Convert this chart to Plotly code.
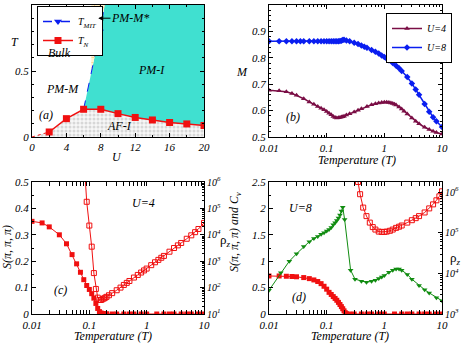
import plotly.graph_objects as go

FONT = "Liberation Serif"
W, H = 463, 343

# ---- (a) phase diagram
tn_u = [2, 4, 6, 8, 10, 12, 14, 16, 18, 20]
tn_t = [0.038, 0.139, 0.21, 0.21, 0.177, 0.148, 0.129, 0.11, 0.099, 0.087]
tn_low_u = [0, 2]
tn_low_t = [0, 0.038]
mit_u = [6.0, 7.9, 8.45]
mit_t = [0.21, 0.80, 1.0]
mit_mark_u = [7.9]
mit_mark_t = [0.80]
pmm_u = [6.9, 8.45, 7.9, 6.9]
pmm_t = [1.0, 1.0, 0.80, 0.49]

# ---- (b) local moment M vs T
u4_T = [0.01, 0.015, 0.02, 0.025, 0.03, 0.04, 0.05, 0.06, 0.07, 0.08, 0.09, 0.1, 0.11, 0.12,
        0.13, 0.14, 0.15, 0.16, 0.17, 0.18, 0.19, 0.2, 0.22, 0.25, 0.3, 0.35, 0.4, 0.5, 0.6,
        0.7, 0.8, 0.9, 1.0, 1.1, 1.2, 1.3, 1.4, 1.5, 1.6, 1.8, 2.0, 2.2, 2.5, 3.0, 3.5, 4.0,
        5.0, 6.0, 7.0, 8.0, 10.0]
u4_M = [0.677, 0.675, 0.671, 0.665, 0.658, 0.645, 0.633, 0.624, 0.616, 0.609, 0.603, 0.597,
        0.590, 0.584, 0.578, 0.574, 0.572, 0.573, 0.574, 0.576, 0.577, 0.579, 0.583, 0.588,
        0.595, 0.601, 0.607, 0.616, 0.622, 0.626, 0.629, 0.631, 0.632, 0.632, 0.631, 0.629,
        0.627, 0.624, 0.621, 0.614, 0.606, 0.598, 0.587, 0.572, 0.560, 0.550, 0.537, 0.528,
        0.522, 0.517, 0.511]
u8_T = [0.01, 0.015, 0.02, 0.025, 0.03, 0.035, 0.04, 0.05, 0.06, 0.07, 0.08, 0.09, 0.1, 0.11,
        0.12, 0.13, 0.14, 0.15, 0.16, 0.17, 0.18, 0.19, 0.2, 0.22, 0.25, 0.3, 0.35, 0.4, 0.45,
        0.5, 0.6, 0.7, 0.8, 0.9, 1.0, 1.1, 1.2, 1.4, 1.6, 1.8, 2.0, 2.5, 3.0, 3.5, 4.0, 5.0,
        6.0, 7.0, 8.0, 10.0]
u8_M = [0.863, 0.863, 0.863, 0.863, 0.863, 0.863, 0.863, 0.863, 0.863, 0.863, 0.863, 0.863,
        0.863, 0.863, 0.863, 0.863, 0.863, 0.863, 0.863, 0.864, 0.865, 0.867, 0.868, 0.866,
        0.863, 0.857, 0.852, 0.847, 0.842, 0.838, 0.830, 0.823, 0.816, 0.809, 0.803, 0.797,
        0.791, 0.780, 0.770, 0.760, 0.750, 0.727, 0.703, 0.680, 0.660, 0.625, 0.596, 0.575,
        0.560, 0.538]

# ---- (c) U=4: S(pi,pi,pi) and rho_z
c_T = [0.01, 0.015, 0.02, 0.03, 0.04, 0.05, 0.06, 0.07, 0.08, 0.09, 0.1, 0.11, 0.12, 0.13,
       0.14, 0.15, 0.16, 0.18, 0.2, 0.25, 0.3, 0.4, 0.5, 0.6, 0.8, 1.0, 1.5, 2.0, 2.5, 3.0,
       4.0, 5.0, 6.0, 8.0, 10.0]
c_S = [0.351, 0.345, 0.330, 0.300, 0.266, 0.225, 0.190, 0.158, 0.130, 0.108, 0.093, 0.077,
       0.060, 0.040, 0.021, 0.009, 0.004, 0.002, 0.001, 0, 0, 0, 0, 0, 0, 0, 0, 0, 0, 0,
       0, 0, 0, 0, 0]
c_rhoT = [0.08, 0.09, 0.1, 0.11, 0.12, 0.13, 0.14, 0.15, 0.16, 0.17, 0.18, 0.19, 0.2, 0.22,
          0.25, 0.3, 0.35, 0.4, 0.45, 0.5, 0.6, 0.7, 0.8, 0.9, 1.0, 1.2, 1.4, 1.6, 1.8, 2.0,
          2.5, 3.0, 3.5, 4.0, 5.0, 6.0, 7.0, 8.0, 10.0]
c_rho = [1e7, 1.78e5, 2.24e4, 3.55e3, 355, 89, 41.7, 33.9, 33.9, 36.3, 38.9, 41.7, 44.7, 51.3,
         61.7, 79.4, 100, 126, 151, 178, 240, 302, 372, 447, 525, 708, 912, 1122, 1349, 1585,
         2291, 3162, 3981, 4898, 7079, 9550, 12590, 16600, 28180]

# ---- (d) U=8: S(pi,pi,pi), C_v and rho_z
d_T = [0.01, 0.015, 0.02, 0.025, 0.03, 0.04, 0.05, 0.06, 0.07, 0.08, 0.09, 0.1, 0.11, 0.12,
       0.13, 0.14, 0.15, 0.16, 0.17, 0.18, 0.19, 0.2, 0.21, 0.22, 0.25, 0.3, 0.4, 0.5, 0.6,
       0.8, 1.0, 1.5, 2.0, 2.5, 3.0, 4.0, 5.0, 6.0, 8.0, 10.0]
d_S = [0.72, 0.72, 0.715, 0.71, 0.705, 0.69, 0.67, 0.645, 0.615, 0.575, 0.525, 0.47, 0.41,
       0.37, 0.33, 0.295, 0.26, 0.22, 0.18, 0.14, 0.10, 0.06, 0.025, 0.005, 0, 0, 0, 0, 0,
       0, 0, 0, 0, 0, 0, 0, 0, 0, 0, 0]
cv_T = [0.01, 0.016, 0.0225, 0.03, 0.04, 0.05, 0.06, 0.07, 0.08, 0.09, 0.1, 0.11, 0.12, 0.13,
        0.14, 0.15, 0.16, 0.17, 0.18, 0.19, 0.205, 0.26, 0.31, 0.4, 0.49, 0.6, 0.7, 0.8, 0.9,
        1.0, 1.2, 1.4, 1.6, 1.8, 2.0, 2.5, 3.0, 4.0, 5.0, 6.0, 8.0, 10.0]
cv = [0.45, 0.78, 1.0, 1.14, 1.28, 1.37, 1.43, 1.47, 1.51, 1.54, 1.57, 1.60, 1.64, 1.69,
      1.73, 1.77, 1.82, 1.875, 1.95, 2.02, 1.79, 0.83, 0.66, 0.62, 0.60, 0.62, 0.64, 0.67,
      0.70, 0.73, 0.79, 0.83, 0.85, 0.85, 0.83, 0.75, 0.66, 0.54, 0.46, 0.40, 0.31, 0.25]
d_rhoT = [0.35, 0.38, 0.43, 0.49, 0.56, 0.63, 0.7, 0.8, 0.9, 1.0, 1.1, 1.25, 1.4, 1.6, 1.8,
          2.0, 2.5, 3.0, 3.5, 4.0, 5.0, 6.0, 7.0, 8.0, 9.0, 10.0]
d_rho = [1.78e6, 8.9e5, 4.17e5, 2.57e5, 1.78e5, 1.38e5, 1.2e5, 1.07e5, 1.05e5, 1.05e5, 1.07e5,
         1.12e5, 1.2e5, 1.32e5, 1.41e5, 1.51e5, 1.78e5, 2.04e5, 2.29e5, 2.57e5, 3.16e5,
         3.98e5, 5.0e5, 6.3e5, 7.9e5, 1.05e6]

RED = "#f01010"
BLUE = "#0a1ef0"
MAROON = "#7a0e45"
GREEN = "#118c11"
CYAN = "#40e0d0"

fig = go.Figure()

# (a) shaded regions
fig.add_trace(go.Scatter(x=tn_low_u + tn_u[1:], y=tn_low_t + tn_t[1:], fill="tozeroy",
                         mode="none", fillcolor="#f4f4f4",
                         fillpattern=dict(shape=".", fgcolor="#b8b8b8", bgcolor="#f7f7f7",
                                          size=4, solidity=0.45),
                         showlegend=False, xaxis="x", yaxis="y"))
i6 = tn_u.index(6)
cyan_u = mit_u + [tn_u[-1]] + tn_u[i6:][::-1]
cyan_t = mit_t + [mit_t[-1]] + tn_t[i6:][::-1]
fig.add_trace(go.Scatter(x=cyan_u, y=cyan_t, fill="toself", mode="none", fillcolor=CYAN,
                         showlegend=False, xaxis="x", yaxis="y"))
fig.add_trace(go.Scatter(x=pmm_u, y=pmm_t, fill="toself", mode="none", fillcolor="#fde9b8",
                         fillpattern=dict(shape="+", fgcolor="#f0a030", bgcolor="#fff2cc",
                                          size=5, solidity=0.25),
                         showlegend=False, xaxis="x", yaxis="y"))
# (a) lines
fig.add_trace(go.Scatter(x=mit_u, y=mit_t, mode="lines", line=dict(color=BLUE, width=1, dash="dash"),
                         showlegend=False, xaxis="x", yaxis="y"))
fig.add_trace(go.Scatter(x=mit_mark_u, y=mit_mark_t, mode="lines+markers", name="T<sub>MIT</sub>",
                         line=dict(color=BLUE, width=1.5, dash="dash"),
                         marker=dict(symbol="triangle-down", size=7, color=BLUE),
                         legend="legend", xaxis="x", yaxis="y"))
fig.add_trace(go.Scatter(x=tn_low_u, y=tn_low_t, mode="lines", line=dict(color=RED, width=1, dash="dot"),
                         showlegend=False, xaxis="x", yaxis="y"))
fig.add_trace(go.Scatter(x=tn_u, y=tn_t, mode="lines+markers", name="T<sub>N</sub>",
                         line=dict(color=RED, width=1.5),
                         marker=dict(symbol="square", size=7, color=RED),
                         legend="legend", xaxis="x", yaxis="y"))

# (b)
fig.add_trace(go.Scatter(x=u4_T, y=u4_M, mode="lines+markers", name="U=4",
                         line=dict(color=MAROON, width=1.5),
                         marker=dict(symbol="triangle-up", size=5, color=MAROON),
                         legend="legend2", xaxis="x2", yaxis="y2"))
fig.add_trace(go.Scatter(x=u8_T, y=u8_M, mode="lines+markers", name="U=8",
                         line=dict(color=BLUE, width=1.5),
                         marker=dict(symbol="diamond", size=5, color=BLUE),
                         legend="legend2", xaxis="x2", yaxis="y2"))

# (c)
fig.add_trace(go.Scatter(x=c_T, y=c_S, mode="lines+markers", line=dict(color=RED, width=1),
                         marker=dict(symbol="square", size=5, color=RED),
                         showlegend=False, xaxis="x3", yaxis="y3"))
fig.add_trace(go.Scatter(x=c_rhoT, y=c_rho, mode="lines+markers", line=dict(color=RED, width=1),
                         marker=dict(symbol="square-open", size=5, color=RED),
                         showlegend=False, xaxis="x3", yaxis="y5"))

# (d)
fig.add_trace(go.Scatter(x=d_T, y=d_S, mode="lines+markers", line=dict(color=RED, width=1),
                         marker=dict(symbol="square", size=5, color=RED),
                         showlegend=False, xaxis="x4", yaxis="y4"))
fig.add_trace(go.Scatter(x=cv_T, y=cv, mode="lines+markers", line=dict(color=GREEN, width=1),
                         marker=dict(symbol="triangle-down", size=5, color=GREEN),
                         showlegend=False, xaxis="x4", yaxis="y4"))
fig.add_trace(go.Scatter(x=d_rhoT, y=d_rho, mode="lines+markers", line=dict(color=RED, width=1),
                         marker=dict(symbol="square-open", size=5, color=RED),
                         showlegend=False, xaxis="x4", yaxis="y6"))

tickfont = dict(family=FONT, size=11, style="italic", color="black")
base = dict(showline=True, linecolor="black", linewidth=1, ticks="inside", ticklen=4,
            tickcolor="black", showgrid=False, zeroline=False, tickfont=tickfont,
            automargin=False)

def minor(vals):
    return dict(ticks="inside", ticklen=2, tickcolor="black", tickmode="array", tickvals=vals)

logminor = [k * 10 ** d for d in (-2, -1, 0) for k in range(2, 10)]
logx = dict(type="log", range=[-2, 1], tickvals=[0.01, 0.1, 1, 10],
            ticktext=["0.01", "0.1", "1", "10"], minor=minor(logminor), mirror="allticks",
            ticklabelstandoff=1)

xa = [32 / W, 204 / W]
xb = [269 / W, 442 / W]
ytop = [1 - 137 / H, 1 - 5 / H]
ybot = [1 - 314 / H, 1 - 182 / H]

def rlog(lo, hi):
    vals = [10 ** k for k in range(lo, hi + 1)]
    mvals = [k * 10 ** d for d in range(lo, hi + 1) for k in range(2, 10)]
    return dict(tickvals=vals, ticktext=[f"10<sup>{k}</sup>" for k in range(lo, hi + 1)],
                minor=minor(mvals), tickfont=dict(tickfont, size=10))

fig.update_layout(
    width=W, height=H, margin=dict(l=0, r=0, t=0, b=0, pad=0, autoexpand=False),
    paper_bgcolor="white", plot_bgcolor="white",
    font=dict(family=FONT, size=12, color="black"),
    xaxis=dict(base, domain=xa, anchor="y", range=[0, 20], tickvals=[0, 4, 8, 12, 16, 20],
               minor=minor([2, 6, 10, 14, 18]), mirror="allticks"),
    yaxis=dict(base, domain=ytop, anchor="x", range=[0, 1], tickvals=[0, 0.5, 1],
               ticktext=["0", "0.5", "1"], minor=minor([0.1, 0.2, 0.3, 0.4, 0.6, 0.7, 0.8, 0.9]),
               mirror="allticks"),
    xaxis2=dict(base, domain=xb, anchor="y2", **logx),
    yaxis2=dict(base, domain=ytop, anchor="x2", range=[0.5, 1],
                tickvals=[0.5, 0.6, 0.7, 0.8, 0.9, 1.0],
                ticktext=["0.5", "0.6", "0.7", "0.8", "0.9", "1"],
                minor=minor([0.52, 0.54, 0.56, 0.58, 0.62, 0.64, 0.66, 0.68, 0.72, 0.74, 0.76,
                             0.78, 0.82, 0.84, 0.86, 0.88, 0.92, 0.94, 0.96, 0.98]),
                mirror="allticks"),
    xaxis3=dict(base, domain=xa, anchor="y3", **logx),
    yaxis3=dict(base, domain=ybot, anchor="x3", range=[0, 0.5],
                tickvals=[0, 0.1, 0.2, 0.3, 0.4, 0.5],
                ticktext=["0", "0.1", "0.2", "0.3", "0.4", "0.5"],
                minor=minor([0.05, 0.15, 0.25, 0.35, 0.45])),
    yaxis5=dict(base, overlaying="y3", anchor="x3", side="right", type="log", range=[1, 6],
                **rlog(1, 6)),
    xaxis4=dict(base, domain=xb, anchor="y4", **logx),
    yaxis4=dict(base, domain=ybot, anchor="x4", range=[0, 2.5],
                tickvals=[0, 0.5, 1, 1.5, 2, 2.5],
                ticktext=["0", "0.5", "1", "1.5", "2", "2.5"],
                minor=minor([0.25, 0.75, 1.25, 1.75, 2.25])),
    yaxis6=dict(base, overlaying="y4", anchor="x4", side="right", type="log", range=[3, 6.25],
                **rlog(3, 6)),
    legend=dict(x=37 / W, y=1 - 6 / H, xanchor="left", yanchor="top", bgcolor="white",
                bordercolor="black", borderwidth=1, itemwidth=30, tracegroupgap=0,
                font=dict(family=FONT, size=10, style="italic")),
    legend2=dict(x=386 / W, y=1 - 13 / H, xanchor="left", yanchor="top", bgcolor="white",
                 bordercolor="black", borderwidth=1, itemwidth=30, tracegroupgap=0,
                 font=dict(family=FONT, size=10, style="italic")),
)

it = dict(family=FONT, size=12, style="italic", color="black")

def page(px, py, text, **kw):
    fig.add_annotation(x=px / W, y=1 - py / H, xref="paper", yref="paper", text=text,
                       xanchor="center", yanchor="middle",
                       showarrow=False, font=kw.pop("font", it), **kw)

# axis titles
page(15, 42, "T")
page(117, 157, "U")
page(242, 72, "M")
page(357, 160, "Temperature (T)")
page(113, 336, "Temperature (T)")
page(350, 336, "Temperature (T)")
page(7, 247, "S(π, π, π)", textangle=-90)
page(235, 232, "S(π, π, π) <i>and</i> C<sub>v</sub>", textangle=-90)
rho_font = dict(family=FONT, size=13, color="black")
page(225, 240, "ρ<sub><i>z</i></sub>", font=rho_font)
page(455, 258, "ρ<sub><i>z</i></sub>", font=rho_font)

# panel labels
def txt(x, y, text, xr, yr, size=12):
    fig.add_annotation(x=x, y=y, xref=xr, yref=yr, text=text, showarrow=False,
                       xanchor="center", yanchor="middle",
                       font=dict(family=FONT, size=size, style="italic", color="black"))

txt(3.2, 0.64, "Bulk", "x", "y")
txt(3.6, 0.36, "PM-M", "x", "y")
txt(1.6, 0.17, "(a)", "x", "y")
txt(10.2, 0.08, "AF-I", "x", "y")
txt(13.9, 0.51, "PM-I", "x", "y")
txt(11.4, 0.90, "PM-M*", "x", "y")
fig.add_annotation(x=7.7, y=0.9, ax=9.3, ay=0.9, xref="x", yref="y", axref="x", ayref="y",
                   text="", showarrow=True, arrowhead=2, arrowsize=1, arrowwidth=1,
                   arrowcolor="black")
txt(-1.58, 0.576, "(b)", "x2", "y2")
txt(-0.06, 0.42, "U=4", "x3", "y3")
txt(-1.5, 0.09, "(c)", "x3", "y3")
txt(-1.45, 2.0, "U=8", "x4", "y4")
txt(-1.48, 0.33, "(d)", "x4", "y4")

# the page body has a default margin; drop it so the figure sits at the window origin
fig.write_html("out.html", config={"displayModeBar": False},
               post_script="document.body.style.margin='0px';")
